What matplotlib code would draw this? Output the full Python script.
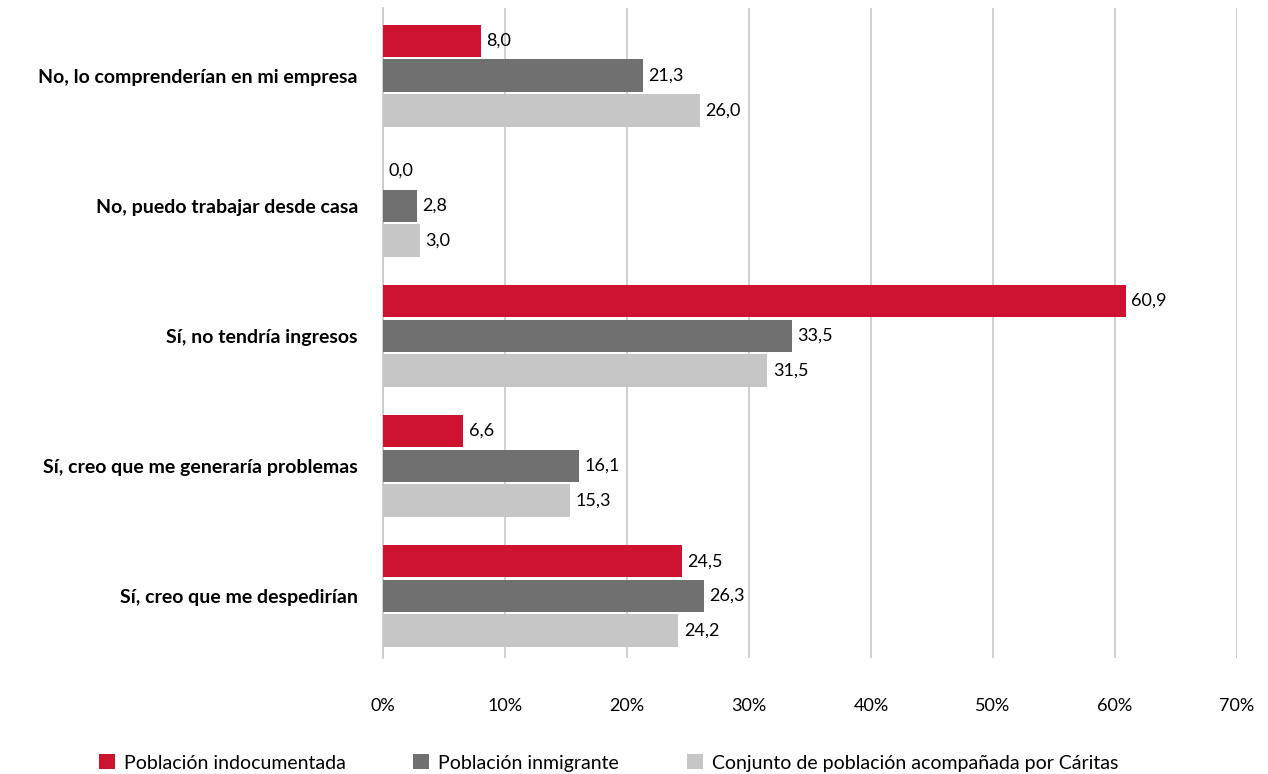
import numpy as np
import matplotlib.pyplot as plt
from matplotlib.patches import Patch

plt.rcParams['font.family'] = ['Lato', 'DejaVu Sans']

# ======================
# Data
# ======================
categories = [
    "No, lo comprenderían en mi empresa",
    "No, puedo trabajar desde casa",
    "Sí, no tendría ingresos",
    "Sí, creo que me generaría problemas",
    "Sí, creo que me despedirían",
]
series_names = [
    "Población indocumentada",
    "Población inmigrante",
    "Conjunto de población acompañada por Cáritas",
]
indocumentada = [8.0, 0.0, 60.9, 6.6, 24.5]
inmigrante = [21.3, 2.8, 33.5, 16.1, 26.3]
caritas = [26.0, 3.0, 31.5, 15.3, 24.2]
x_ticks = [0, 10, 20, 30, 40, 50, 60, 70]

colors = ["#CE1330", "#707070", "#C6C6C6"]

# ======================
# Plot
# ======================
fig = plt.figure(figsize=(12.68, 7.74), dpi=100)
ax = fig.add_axes([0.302, 0.150, 0.6735, 0.840])

y = np.arange(len(categories))
bar_h = 0.25
step = 0.267

for i, (vals, col) in enumerate(zip([indocumentada, inmigrante, caritas], colors)):
    pos = y + (i - 1) * step
    ax.barh(pos, vals, height=bar_h, color=col, zorder=3)
    for p, v in zip(pos, vals):
        ax.annotate(f"{v:.1f}".replace(".", ","), (v, p),
                    xytext=(4, 0), textcoords="offset points",
                    va="center", ha="left", fontsize=13, color="black")

ax.set_xlim(0, 70)
ax.set_ylim(len(categories) - 1 + 0.477, -0.523)
ax.set_xticks(x_ticks)
ax.set_xticklabels([f"{t}%" for t in x_ticks], fontsize=13)
ax.set_yticks(y)
ax.set_yticklabels(categories, fontsize=14, fontweight="bold")
ax.tick_params(axis="x", length=0, pad=29)
ax.tick_params(axis="y", length=0, pad=18)

ax.grid(axis="x", color="#C8C8C8", linewidth=1.2, zorder=0)
for s in ["top", "right", "bottom"]:
    ax.spines[s].set_visible(False)
ax.spines["left"].set_color("#C8C8C8")
ax.spines["left"].set_linewidth(1.2)

# legend entries sit at fixed horizontal positions, like tab stops
legend_x = [99, 413, 687]
for c, n, lx in zip(colors, series_names, legend_x):
    fig.legend(handles=[Patch(facecolor=c, label=n)], loc="center left",
               bbox_to_anchor=(lx / 1268, 1 - 763 / 774), frameon=False,
               fontsize=14, handlelength=0.8, handleheight=0.8,
               handletextpad=0.5, borderpad=0, borderaxespad=0)

fig.savefig("out.png", dpi=100)
